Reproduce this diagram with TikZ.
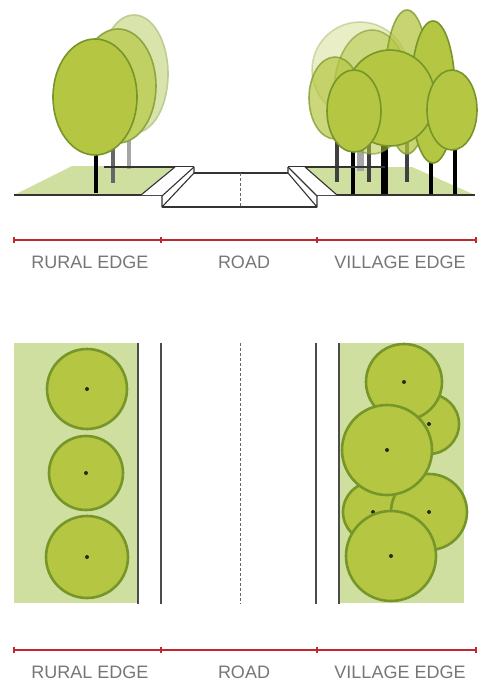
\documentclass[tikz,border=0pt]{standalone}
\usepackage{fontspec}
\setmainfont{Liberation Sans}
\begin{document}
\definecolor{grass}{HTML}{CFDF9F}
\definecolor{leaf}{HTML}{B5C642}
\definecolor{leafline}{HTML}{76962A}
\definecolor{leafmid}{HTML}{C0D062}
\definecolor{leafmidline}{HTML}{8AA642}
\definecolor{leafpale}{HTML}{D9E4AC}
\definecolor{leafpaleline}{HTML}{BCCD90}
\definecolor{dimred}{HTML}{C1272D}
\definecolor{labelgray}{HTML}{767676}
\definecolor{edge}{HTML}{333333}
\begin{tikzpicture}[x=1pt,y=-1pt,
  canopy/.style={fill=leaf,draw=leafline,line width=1.6pt},
  canopymid/.style={fill=leafmid,draw=leafmidline,line width=1.6pt},
  canopypale/.style={fill=leafpale,draw=leafpaleline,line width=1.6pt},
  ghost/.style={fill=leaf,draw=leafline,line width=1.6pt,opacity=#1},
  trunk/.style={draw=black,line width=4pt},
  trunkback/.style={draw=black!75,line width=4pt},
  roadline/.style={draw=edge,line width=1.1pt,line join=round},
  centreline/.style={draw=black!60,line width=1pt,dash pattern=on 3pt off 2pt},
  planline/.style={draw=black!70,line width=1.4pt},
  crown/.style={fill=leaf,draw=leafline,line width=2.6pt},
  stem/.style={fill=black!70!leafline},
  dimline/.style={draw=dimred,line width=1.2pt},
  dimlabel/.style={text=labelgray,font=\fontsize{18}{18}\selectfont,anchor=base,inner sep=0pt}]
\useasboundingbox (0,0) rectangle (477,685);

% ---------- cross section ----------
% verges
\fill[grass] (14,195) -- (72,166) -- (175,166) -- (141,195) -- cycle;
\fill[grass] (475,195) -- (412,167) -- (305,167) -- (337,195) -- cycle;

% rural edge trees, back to front
\draw[draw=black!35,line width=4pt] (129,128) -- (129,169);
\draw[canopypale] (134,74) ellipse [x radius=34,y radius=59];
\draw[draw=black!60,line width=4pt] (113,140) -- (113,183);
\draw[canopymid] (118,86) ellipse [x radius=38,y radius=57];
\draw[trunk] (96,150) -- (96,193);
\draw[canopy] (95,97) ellipse [x radius=42,y radius=58];

% village edge trunks
\draw[draw=black!35,line width=7pt] (360,140) -- (360,171);
\draw[trunkback] (337,130) -- (337,182);
\draw[trunkback] (369,130) -- (369,182);
\draw[trunkback] (407,140) -- (407,182);
\draw[trunk] (353,140) -- (353,195);
\draw[draw=black,line width=7pt] (384,140) -- (384,195);
\draw[trunk] (431,150) -- (431,195);
\draw[trunk] (455,140) -- (455,195);

% village edge canopies, back to front
\draw[ghost=0.3] (360,70) circle [radius=48];
\draw[ghost=0.55] (372,92) ellipse [x radius=38,y radius=62];
\draw[ghost=0.7] (335,98) ellipse [x radius=26,y radius=41];
\draw[ghost=0.75] (407,82) ellipse [x radius=22,y radius=72];
\draw[canopy] (433,92) ellipse [x radius=22,y radius=71];
\draw[canopy] (390,98) ellipse [x radius=45,y radius=48];
\draw[canopy] (354,111) ellipse [x radius=27,y radius=41];
\draw[canopy] (452,110) ellipse [x radius=25,y radius=40];

% ground lines and back edges
\draw[roadline] (14,195) -- (162,195);
\draw[roadline] (317,195) -- (475,195);
\draw[roadline] (104,167) -- (194,167);
\draw[roadline] (288,167) -- (385,167);

% road with kerbs
\fill[white] (175,167) -- (194,167) -- (194,173) -- (288,173) -- (288,167) -- (305,167)
  -- (337,195) -- (317,195) -- (317,207) -- (162,207) -- (162,195) -- (141,195) -- cycle;
\draw[roadline] (175,167) -- (141,195);
\draw[roadline] (194,167) -- (162,196);
\draw[roadline] (194,167) -- (194,173) -- (162,207) -- (162,195);
\draw[roadline] (194,173) -- (288,173);
\draw[roadline] (162,207) -- (317,207);
\draw[roadline] (305,167) -- (337,195);
\draw[roadline] (288,167) -- (317,196);
\draw[roadline] (288,167) -- (288,173) -- (317,207) -- (317,195);
\draw[centreline] (240,173) -- (240,207);

% ---------- dimension bar (section) ----------
\coordinate (s0) at (14,240);
\coordinate (s1) at (161,240);
\coordinate (s2) at (317,240);
\coordinate (s3) at (476,240);
\draw[dimline] (s0) -- (s3);
\foreach \p in {s0,s1,s2,s3} \draw[dimline] ([yshift=-3pt]\p) -- ([yshift=3pt]\p);
\node[dimlabel] (rural1) at (90,268) {RURAL EDGE};
\node[dimlabel] (road1) at (244,268) {ROAD};
\node[dimlabel] (village1) at (400,268) {VILLAGE EDGE};

% ---------- plan ----------
\fill[grass] (14,343) rectangle (138,603);
\fill[grass] (339,343) rectangle (464,603);
\draw[planline] (138,343) -- (138,604);
\draw[planline] (161,343) -- (161,604);
\draw[planline] (316,343) -- (316,604);
\draw[planline] (339,343) -- (339,604);
\draw[centreline] (240,343) -- (240,604);

% rural edge crowns
\foreach \cx/\cy/\r in {87/389/40, 86/473/37, 87/557/41}{
  \draw[crown] (\cx,\cy) circle [radius=\r];
  \fill[stem] (\cx,\cy) circle [radius=2];
}
% village edge crowns
\foreach \cx/\cy/\r in {429/424/30, 404/382/38, 373/512/30, 429/512/38, 387/450/45, 391/556/45}{
  \draw[crown] (\cx,\cy) circle [radius=\r];
  \fill[stem] (\cx,\cy) circle [radius=2];
}

% ---------- dimension bar (plan) ----------
\coordinate (p0) at (14,650);
\coordinate (p1) at (161,650);
\coordinate (p2) at (317,650);
\coordinate (p3) at (476,650);
\draw[dimline] (p0) -- (p3);
\foreach \p in {p0,p1,p2,p3} \draw[dimline] ([yshift=-3pt]\p) -- ([yshift=3pt]\p);
\node[dimlabel] (rural2) at (90,678) {RURAL EDGE};
\node[dimlabel] (road2) at (244,678) {ROAD};
\node[dimlabel] (village2) at (400,678) {VILLAGE EDGE};
\end{tikzpicture}
\end{document}
